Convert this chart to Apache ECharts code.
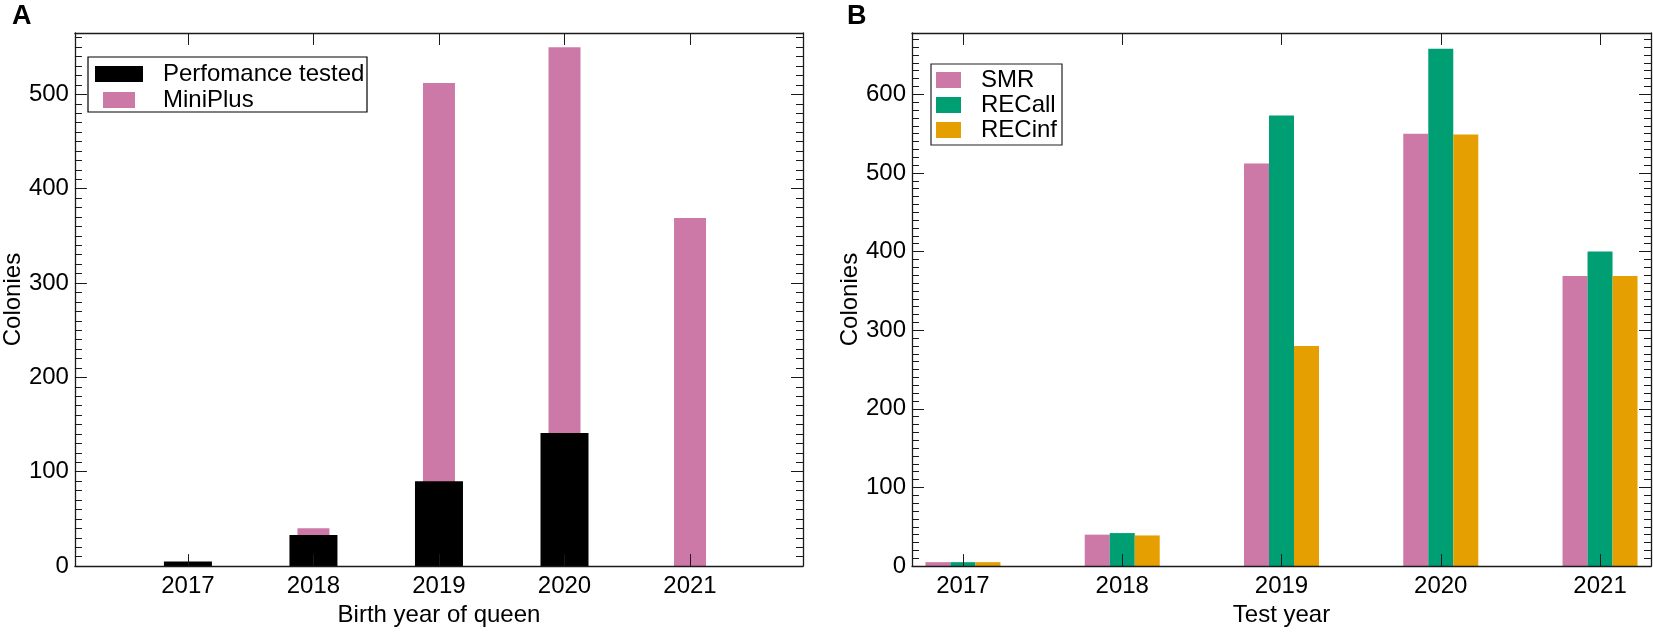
<!DOCTYPE html>
<html lang="en">
<head>
    <meta charset="UTF-8">
    <title>Colonies per year</title>
    <script src="https://cdn.jsdelivr.net/npm/echarts@6/dist/echarts.min.js"></script>
    <style>
        html, body { margin: 0; padding: 0; background: #fff; }
        #main { width: 1653px; height: 632px; }
    </style>
</head>
<body>

<div id="main"></div>

<script type="text/javascript">

    // data
    var years = [2017, 2018, 2019, 2020, 2021];

    // panel A: birth year of queen
    var perfTested = [5, 33, 90, 141, 0];
    var miniPlus = [0, 40, 512, 550, 369];

    // panel B: test year
    var smr = [5, 40, 512, 550, 369];
    var recAll = [5, 42, 573, 658, 400];
    var recInf = [5, 39, 280, 549, 369];

    var FONT = 'Liberation Sans, Arial, sans-serif';
    var AXIS_COLOR = '#1a1a1a';

    function pairs(xs, ys) {
        return xs.map(function (x, i) { return [x, ys[i]]; });
    }

    // x axis with ticks pointing in, labels only when asked
    function xAx(grid, pos, min, max, withLabels, name) {
        return {
            type: 'value', gridIndex: grid, position: pos, min: min, max: max, z: 5,
            axisLine: { show: true, onZero: false, lineStyle: { color: AXIS_COLOR, width: 1.3 } },
            axisTick: { show: true, inside: true, length: 12, customValues: years,
                        lineStyle: { color: AXIS_COLOR, width: 1 } },
            axisLabel: { show: withLabels, customValues: years, fontFamily: FONT, fontSize: 24,
                         color: '#000', margin: 8,
                         formatter: function (v) { return String(v); } },
            splitLine: { show: false },
            name: name || '', nameLocation: 'middle', nameGap: 28,
            nameTextStyle: { fontFamily: FONT, fontSize: 24, color: '#000' }
        };
    }

    // y axes: major ticks every 100 + minor every 10, both sides
    function yAxes(grid, max, name, gap) {
        var base = function (pos, interval, len, withLabels, line) {
            return {
                type: 'value', gridIndex: grid, position: pos, min: 0, max: max, interval: interval, z: 5,
                axisLine: { show: line, lineStyle: { color: AXIS_COLOR, width: 1.3 } },
                axisTick: { show: true, inside: true, length: len, lineStyle: { color: AXIS_COLOR, width: 1 } },
                axisLabel: { show: withLabels, showMaxLabel: false, fontFamily: FONT, fontSize: 24,
                             color: '#000', margin: 6 },
                splitLine: { show: false }
            };
        };
        var main = base('left', 100, 12, true, true);
        main.name = name;
        main.nameLocation = 'middle';
        main.nameGap = gap;
        main.nameTextStyle = { fontFamily: FONT, fontSize: 24, color: '#000' };
        return [
            main,
            base('left', 10, 7, false, false),
            base('right', 100, 12, false, true),
            base('right', 10, 7, false, false)
        ];
    }

    var myChart = echarts.init(document.getElementById('main'), null, { renderer: 'canvas' });

    var yA = yAxes(0, 565, 'Colonies', 44);
    var yB = yAxes(1, 678, 'Colonies', 50);

    var option = {
        backgroundColor: '#fff',
        animation: false,
        title: [
            { text: 'A', left: 12, top: 3, padding: 0,
              textStyle: { fontFamily: FONT, fontSize: 27, fontWeight: 'bold', color: '#000' } },
            { text: 'B', left: 847, top: 3, padding: 0,
              textStyle: { fontFamily: FONT, fontSize: 27, fontWeight: 'bold', color: '#000' } }
        ],
        grid: [
            { left: 69, right: 850, top: 33, bottom: 61 },
            { left: 912, right: 2, top: 33, bottom: 56 }
        ],
        legend: [
            {
                data: ['Perfomance tested'], left: 95, top: 62, padding: 0,
                itemWidth: 48, itemHeight: 16, icon: 'rect',
                textStyle: { fontFamily: FONT, fontSize: 24, color: '#000', lineHeight: 16, padding: [0, 0, 0, 15] }
            },
            {
                data: ['MiniPlus'], left: 103, top: 88, padding: 0,
                itemWidth: 32, itemHeight: 16, icon: 'rect',
                textStyle: { fontFamily: FONT, fontSize: 24, color: '#000', lineHeight: 16, padding: [0, 0, 0, 23] }
            },
            {
                data: ['SMR', 'RECall', 'RECinf'], left: 936, top: 68, padding: 0,
                orient: 'vertical', itemGap: 1,
                itemWidth: 25, itemHeight: 16, icon: 'rect',
                textStyle: { fontFamily: FONT, fontSize: 24, color: '#000', lineHeight: 16, padding: [0, 0, 0, 15] }
            }
        ],
        graphic: [
            { type: 'rect', shape: { x: 88, y: 57, width: 279, height: 55 },
              style: { fill: null, stroke: '#000', lineWidth: 1.2 }, z: 10 },
            { type: 'rect', shape: { x: 931, y: 64, width: 131, height: 81 },
              style: { fill: null, stroke: '#222', lineWidth: 1.2 }, z: 10 }
        ],
        xAxis: [
            xAx(0, 'bottom', 2016.1, 2021.9, true, 'Birth year of queen'),
            xAx(0, 'top', 2016.1, 2021.9, false),
            xAx(1, 'bottom', 2016.68, 2021.32, true, 'Test year'),
            xAx(1, 'top', 2016.68, 2021.32, false)
        ],
        yAxis: yA.concat(yB),
        series: [
            {
                name: 'MiniPlus', type: 'bar', xAxisIndex: 1, yAxisIndex: 0,
                barWidth: 32, z: 2,
                itemStyle: { color: '#CC79A7' },
                data: pairs(years, miniPlus)
            },
            {
                name: 'Perfomance tested', type: 'bar', xAxisIndex: 0, yAxisIndex: 0,
                barWidth: 48, z: 3,
                itemStyle: { color: '#000000' },
                data: pairs(years, perfTested)
            },
            {
                name: 'SMR', type: 'bar', xAxisIndex: 2, yAxisIndex: 4,
                barWidth: 25, barGap: '0%',
                itemStyle: { color: '#CC79A7' },
                data: pairs(years, smr)
            },
            {
                name: 'RECall', type: 'bar', xAxisIndex: 2, yAxisIndex: 4,
                barWidth: 25, barGap: '0%',
                itemStyle: { color: '#009E73' },
                data: pairs(years, recAll)
            },
            {
                name: 'RECinf', type: 'bar', xAxisIndex: 2, yAxisIndex: 4,
                barWidth: 25, barGap: '0%',
                itemStyle: { color: '#E69F00' },
                data: pairs(years, recInf)
            }
        ]
    };

    myChart.setOption(option);

</script>

</body>
</html>
